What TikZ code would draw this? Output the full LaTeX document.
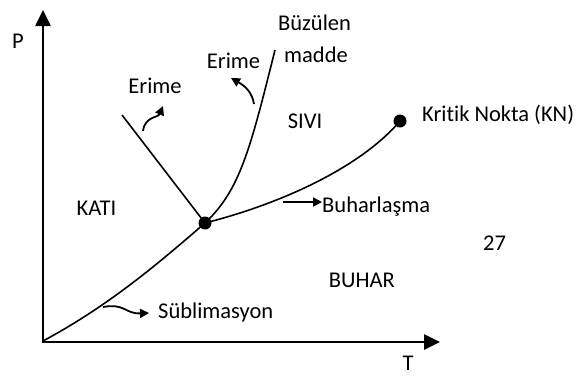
\documentclass[tikz,border=0pt]{standalone}
\usepackage{fontspec}
\setmainfont[Ligatures=NoCommon]{Carlito}
\usetikzlibrary{arrows.meta}
\begin{document}
\begin{tikzpicture}[x=1pt,y=-1pt,
  lbl/.style={inner sep=0pt,anchor=base,font=\fontsize{22.5}{27}\selectfont},
  curve/.style={line width=1.6pt},
  axis/.style={line width=2.6pt,-{Triangle[length=16pt,width=15pt]}},
  smallarrow/.style={line width=1.8pt,-{Triangle[length=9pt,width=9pt]}},
  dot/.style={circle,fill=black,inner sep=0pt,minimum size=13pt}]
\useasboundingbox (0,0) rectangle (584,376);
% coordinates
\coordinate (O) at (43,341);
\coordinate (ytop) at (43,10);
\coordinate (O2) at (42,342);
\coordinate (xend) at (440,342);
\coordinate (ltop) at (122,115);
\coordinate (btop) at (275,50);
\node[dot] (tp) at (205,223) {};
\node[dot] (kn) at (400,121) {};
% axes
\draw[axis] (O) -- (ytop);
\draw[axis] (O2) -- (xend);
% phase boundaries
\draw[curve] (O) .. controls (110,305) and (160,262) .. (tp.center);
\draw[curve] (tp.center) .. controls (280,204) and (360,168) .. (kn.center);
\draw[curve] (tp.center) .. controls (240,190) and (250,150) .. (btop);
\draw[curve] (ltop) -- (tp.center);
% labels
\node[lbl] (P) at (18,48) {P};
\node[lbl] (T) at (408,370) {T};
\node[lbl] (buz) at (314.5,30) {Büzülen};
\node[lbl] (madde) at (316,62) {madde};
\node[lbl] (erime1) at (155,93) {Erime};
\node[lbl] (erime2) at (233.5,68) {Erime};
\node[lbl] (sivi) at (305,128) {SIVI};
\node[lbl] (kati) at (96.5,215) {KATI};
\node[lbl,anchor=base west] (buhar) at (322,212) {Buharlaşma};
\node[lbl,anchor=base west] (kritik) at (422,121) {Kritik Nokta (KN)};
\node[lbl,anchor=base west] (num) at (483,250) {27};
\node[lbl,anchor=base east] (buharr) at (395,287) {BUHAR};
\node[lbl,anchor=base west] (sub) at (158,318) {Süblimasyon};
% small arrows
\coordinate (e1t) at (143,131);
\coordinate (e1h) at (163,106);
\draw[smallarrow] (e1t) .. controls (145,116) and (158,118) .. (e1h);
\coordinate (e2t) at (254,104);
\coordinate (e2h) at (231,78);
\draw[smallarrow] (e2t) .. controls (252,92) and (245,86) .. (e2h);
\coordinate (bt) at (283,202);
\draw[smallarrow] (bt) -- (buhar.west |- bt);
\coordinate (st) at (103,307);
\coordinate (sh) at (149,313);
\draw[smallarrow] (st) .. controls (125,303) and (125,314) .. (sh);
\end{tikzpicture}
\end{document}
